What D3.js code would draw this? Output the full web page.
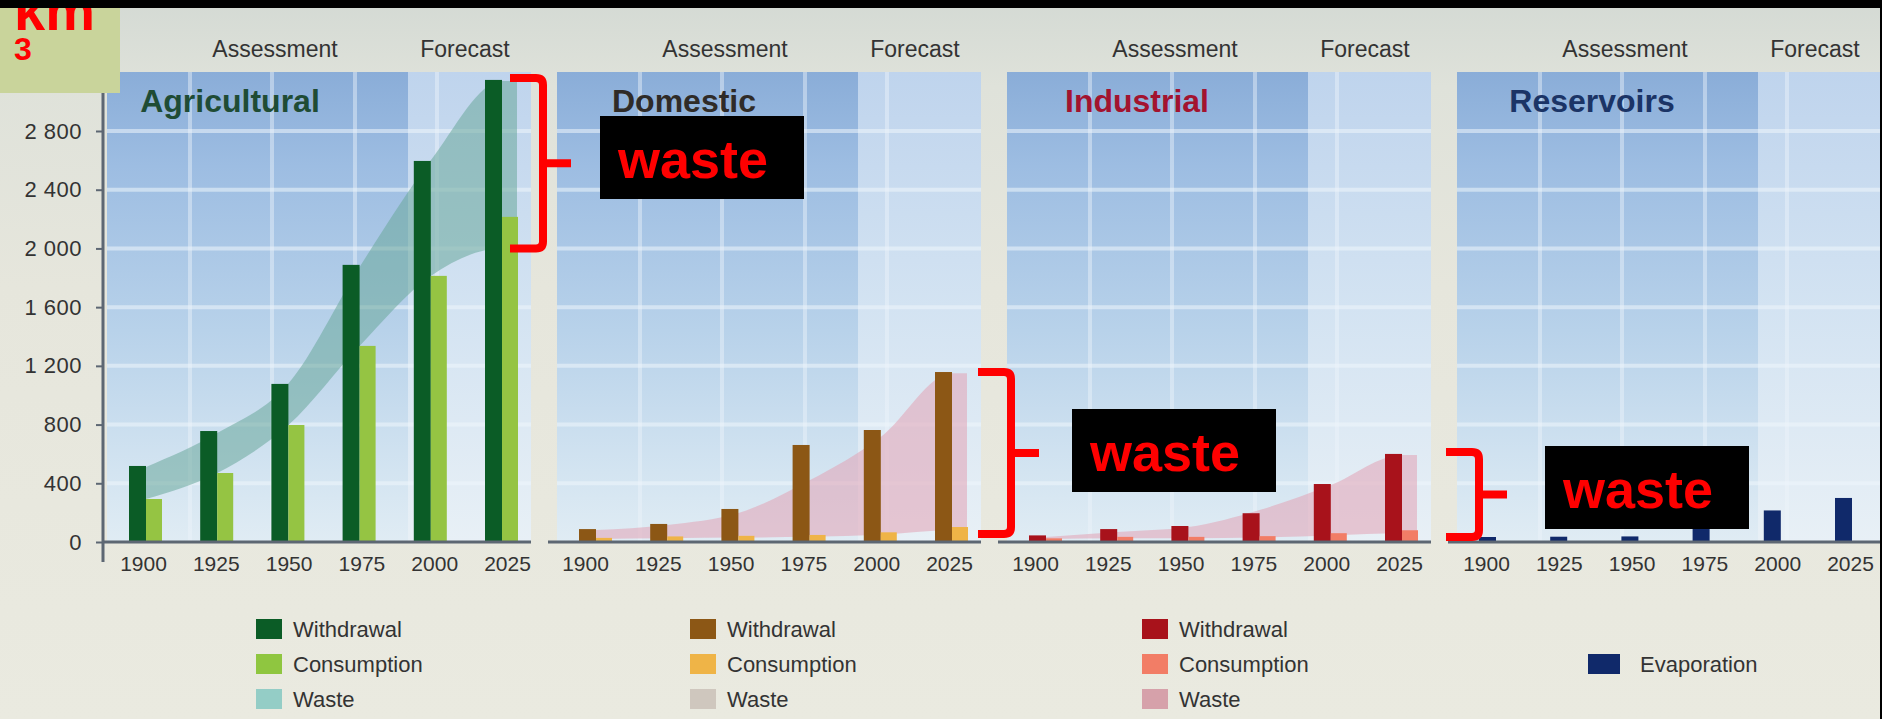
<!DOCTYPE html>
<meta charset="utf-8">
<style>
body { margin: 0; background: #e6e6dc; }
svg { display: block; font-family: "Liberation Sans", Arial, sans-serif; }
</style>
<svg width="1882" height="719"></svg>
<script src="https://cdn.jsdelivr.net/npm/d3@7"></script>
<script>

// values (km3)
var years = [1900, 1925, 1950, 1975, 2000, 2025];
var yTicks = [0, 400, 800, 1200, 1600, 2000, 2400, 2800];

var agriWithdrawal  = [518, 756, 1077, 1888, 2596, 3148];
var agriConsumption = [293, 470, 797, 1336, 1813, 2215];
var agriWasteTop    = [511, 742, 1080, 1874, 2600, 3140];
var agriWasteBottom = [293, 470, 797, 1336, 1813, 2000];

var domWithdrawal  = [88, 123, 225, 661, 763, 1158];
var domConsumption = [28, 38, 42, 48, 66, 102];
var domWasteTop    = [82, 116, 197, 420, 716, 1150];
var domWasteBottom = [20, 25, 30, 35, 50, 80];

var indWithdrawal  = [45, 88, 109, 196, 395, 600];
var indConsumption = [25, 35, 35, 40, 60, 80];
var indWasteTop    = [34, 68, 102, 218, 388, 593];
var indWasteBottom = [20, 25, 25, 30, 45, 60];

var resEvaporation = [34, 36, 38, 110, 215, 300];

var panelNames = ["Agricultural", "Domestic", "Industrial", "Reservoirs"];
var phaseLabels = ["Assessment", "Forecast"];
var legendNames = ["Withdrawal", "Consumption", "Waste"];

var svg = d3.select("svg");
var W = 1882, H = 719;
var defs = svg.append("defs");

function grad(id, stops) {
  var g = defs.append("linearGradient").attr("id", id)
    .attr("x1", 0).attr("y1", 0).attr("x2", 0).attr("y2", 1);
  stops.forEach(function (s) { g.append("stop").attr("offset", s[0]).attr("stop-color", s[1]); });
}
grad("bg", [[0, "#d4dad4"], [0.12, "#dfe2da"], [0.4, "#e6e6dc"], [1, "#eaeae0"]]);
grad("assess", [[0, "#8aadd8"], [0.2, "#9dbde2"], [0.55, "#b8d2ea"], [0.85, "#d3e4f1"], [1, "#e0ecf4"]]);
grad("fore", [[0, "#bfd4ed"], [0.5, "#d3e3f2"], [1, "#e8f0f6"]]);

svg.append("rect").attr("width", W).attr("height", H).attr("fill", "url(#bg)");

var y = d3.scaleLinear().domain([0, 2800]).range([542, 131]);

var panelTop = 72, panelW = 424, foreAt = 301, barW = 17;
var titleMid = [123, 127, 130, 135];
var labelStart = [36, 28, 28, 29];
var legendX = [149, 133, 135, 131];

var panels = [
  { name: panelNames[0], color: "#1f4c35",
    bars: [{ v: agriWithdrawal, c: "#0b5c26" }, { v: agriConsumption, c: "#95c443" }],
    band: { top: agriWasteTop, bot: agriWasteBottom, c: "#69a79a" },
    legend: ["#0b5c26", "#8fc640", "#94cdc6"] },
  { name: panelNames[1], color: "#2f2b28",
    bars: [{ v: domWithdrawal, c: "#8c5715" }, { v: domConsumption, c: "#efb447" }],
    band: { top: domWasteTop, bot: domWasteBottom, c: "#e2a2b4" },
    legend: ["#8c5715", "#efb447", "#cfc7be"] },
  { name: panelNames[2], color: "#a3132f",
    bars: [{ v: indWithdrawal, c: "#a8121b" }, { v: indConsumption, c: "#f27d66" }],
    band: { top: indWasteTop, bot: indWasteBottom, c: "#e2a2b4" },
    legend: ["#a8121b", "#f27d66", "#d6a1aa"] },
  { name: panelNames[3], color: "#1b3466",
    bars: [{ v: resEvaporation, c: "#10296a" }],
    band: null,
    legend: null }
];

panels.forEach(function (p, i) {
  var left = 107 + 450 * i;
  var g = svg.append("g");
  var x = d3.scaleLinear().domain([1900, 2025]).range([left + 39, left + 395]);
  var xl = d3.scaleLinear().domain([1900, 2025]).range([left + labelStart[i], left + labelStart[i] + 364]);

  // background areas
  g.append("rect").attr("x", left).attr("y", panelTop).attr("width", foreAt).attr("height", y(0) - panelTop)
    .attr("fill", "url(#assess)");
  g.append("rect").attr("x", left + foreAt).attr("y", panelTop).attr("width", panelW - foreAt).attr("height", y(0) - panelTop)
    .attr("fill", "url(#fore)");

  // grid
  g.selectAll(".hg").data(yTicks.slice(1)).join("line")
    .attr("x1", left).attr("x2", left + panelW)
    .attr("y1", function (d) { return y(d); }).attr("y2", function (d) { return y(d); })
    .attr("stroke", "#eef5fb").attr("stroke-opacity", 0.55).attr("stroke-width", 4);
  g.selectAll(".vg").data([83, 165, 248, 330]).join("line")
    .attr("x1", function (d) { return left + d; }).attr("x2", function (d) { return left + d; })
    .attr("y1", panelTop).attr("y2", y(0))
    .attr("stroke", "#eef5fb").attr("stroke-opacity", 0.45).attr("stroke-width", 4);

  // waste band
  if (p.band) {
    var pts = years.map(function (yr, k) { return { x: x(yr), t: p.band.top[k], b: p.band.bot[k] }; });
    pts.push({ x: x(2025) + 15, t: p.band.top[5], b: p.band.bot[5] });
    var area = d3.area().curve(d3.curveMonotoneX)
      .x(function (d) { return d.x; })
      .y0(function (d) { return y(d.b); })
      .y1(function (d) { return y(d.t); });
    g.append("path").datum(pts).attr("d", area).attr("fill", p.band.c).attr("fill-opacity", 0.55);
  }

  // bars
  p.bars.forEach(function (s, j) {
    g.selectAll(".b" + j).data(years).join("rect")
      .attr("x", function (d) { return x(d) - barW + j * barW; })
      .attr("y", function (d, k) { return y(s.v[k]); })
      .attr("width", barW - j)
      .attr("height", function (d, k) { return y(0) - y(s.v[k]); })
      .attr("fill", s.c);
  });

  // baseline
  g.append("line").attr("x1", i === 0 ? 103 : left - 9).attr("x2", left + panelW)
    .attr("y1", y(0)).attr("y2", y(0)).attr("stroke", "#5d6773").attr("stroke-width", 3);

  // year labels
  var xAxis = d3.axisBottom(xl).tickValues(years).tickFormat(d3.format("d")).tickSize(0).tickPadding(14);
  var ax = g.append("g").attr("transform", "translate(0," + y(0) + ")").call(xAxis);
  ax.select(".domain").remove();
  ax.selectAll("text").attr("font-size", 21).attr("fill", "#333").attr("font-family", "Liberation Sans, Arial");

  // title + headers
  g.append("text").attr("x", left + titleMid[i]).attr("y", 112).attr("text-anchor", "middle")
    .attr("font-size", 32).attr("font-weight", "bold").attr("fill", p.color).text(p.name);
  g.append("text").attr("x", left + 168).attr("y", 57).attr("text-anchor", "middle")
    .attr("font-size", 23).attr("fill", "#333").text(phaseLabels[0]);
  g.append("text").attr("x", left + 358).attr("y", 57).attr("text-anchor", "middle")
    .attr("font-size", 23).attr("fill", "#333").text(phaseLabels[1]);

  // legend
  var lg = g.append("g").attr("transform", "translate(" + (left + legendX[i]) + ",0)");
  var items = p.legend ? legendNames.map(function (n, k) { return { n: n, c: p.legend[k], row: k, w: 26 }; })
                       : [{ n: "Evaporation", c: p.bars[0].c, row: 1, w: 32 }];
  items.forEach(function (it) {
    var ry = 619 + it.row * 35;
    lg.append("rect").attr("x", 0).attr("y", ry).attr("width", it.w).attr("height", 20).attr("fill", it.c);
    lg.append("text").attr("x", it.w + 11 + (it.w - 26) * 1.5).attr("y", ry + 18)
      .attr("font-size", 22).attr("fill", "#333").text(it.n);
  });
});

// y axis
var yAxis = d3.axisLeft(y).tickValues(yTicks).tickSize(7).tickPadding(14)
  .tickFormat(function (d) { return d3.format(",")(d).replace(/,/g, " "); });
var yg = svg.append("g").attr("transform", "translate(103,0)").call(yAxis);
yg.select(".domain").remove();
yg.append("line").attr("y1", panelTop).attr("y2", 562).attr("stroke", "#5d6773").attr("stroke-width", 3);
yg.selectAll(".tick line").attr("stroke", "#5d6773").attr("stroke-width", 2);
yg.selectAll("text").attr("font-size", 22).attr("letter-spacing", 0.5).attr("fill", "#333")
  .attr("font-family", "Liberation Sans, Arial");

// km3 unit box
svg.append("rect").attr("x", 0).attr("y", 8).attr("width", 120).attr("height", 85).attr("fill", "#c9d49b");
svg.append("text").attr("x", 14).attr("y", 30).attr("font-size", 56).attr("font-weight", "bold").attr("fill", "#f00").text("km");
svg.append("text").attr("x", 14).attr("y", 60).attr("font-size", 32).attr("font-weight", "bold").attr("fill", "#f00").text("3");

// frame strips
svg.append("rect").attr("x", 0).attr("y", 0).attr("width", W).attr("height", 8).attr("fill", "#000");
svg.append("rect").attr("x", 1880).attr("y", 0).attr("width", 2).attr("height", H).attr("fill", "#000");

// "waste" annotations: brace spans from the 2025 withdrawal down to the band bottom
var notes = [
  { bx: 510, top: y(agriWithdrawal[5]) - 2, bot: y(agriWasteBottom[5]), box: [600, 116] },
  { bx: 978, top: y(domWithdrawal[5]), bot: y(0) - 8, box: [1072, 409] },
  { bx: 1446, top: y(indWithdrawal[5]) - 2, bot: y(0) - 5, box: [1545, 446] }
];
notes.forEach(function (n) {
  var v = n.bx + 33, mid = (n.top + n.bot) / 2, r = 7;
  var path = d3.path();
  path.moveTo(n.bx, n.top);
  path.lineTo(v - r, n.top);
  path.quadraticCurveTo(v, n.top, v, n.top + r);
  path.lineTo(v, n.bot - r);
  path.quadraticCurveTo(v, n.bot, v - r, n.bot);
  path.lineTo(n.bx, n.bot);
  path.moveTo(v, mid);
  path.lineTo(v + 28, mid);
  svg.append("path").attr("d", path.toString()).attr("fill", "none")
    .attr("stroke", "#f00").attr("stroke-width", 8).attr("stroke-linejoin", "round");
  svg.append("rect").attr("x", n.box[0]).attr("y", n.box[1]).attr("width", 204).attr("height", 83).attr("fill", "#000");
  svg.append("text").attr("x", n.box[0] + 18).attr("y", n.box[1] + 62)
    .attr("font-size", 54).attr("font-weight", "bold").attr("fill", "#f00").text("waste");
});

</script>
